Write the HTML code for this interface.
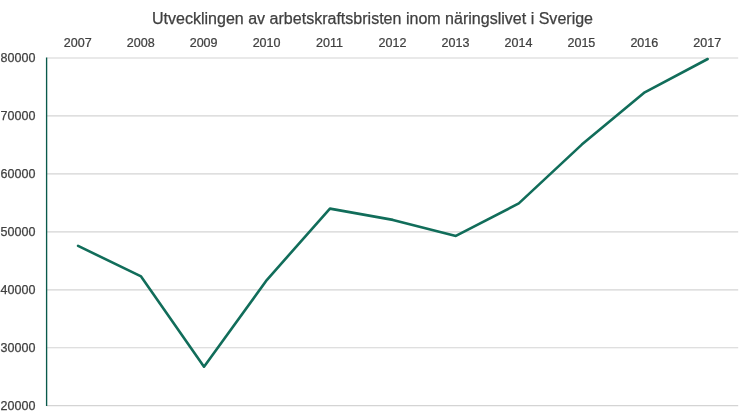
<!DOCTYPE html>
<html><head><meta charset="utf-8"><style>
html,body{margin:0;padding:0;background:#fff;width:746px;height:419px;overflow:hidden}
svg{display:block;filter:blur(0.35px)}
text{font-family:"Liberation Sans",sans-serif;fill:#404040;stroke:#404040;stroke-width:0.25px}
</style></head><body>
<svg width="746" height="419" viewBox="0 0 746 419">
<text x="372.5" y="24.1" font-size="16.05" text-anchor="middle">Utvecklingen av arbetskraftsbristen inom näringslivet i Sverige</text>
<text transform="translate(77.70 46.6) scale(0.965 1)" font-size="13" text-anchor="middle">2007</text>
<text transform="translate(140.66 46.6) scale(0.965 1)" font-size="13" text-anchor="middle">2008</text>
<text transform="translate(203.62 46.6) scale(0.965 1)" font-size="13" text-anchor="middle">2009</text>
<text transform="translate(266.58 46.6) scale(0.965 1)" font-size="13" text-anchor="middle">2010</text>
<text transform="translate(329.54 46.6) scale(0.965 1)" font-size="13" text-anchor="middle">2011</text>
<text transform="translate(392.50 46.6) scale(0.965 1)" font-size="13" text-anchor="middle">2012</text>
<text transform="translate(455.46 46.6) scale(0.965 1)" font-size="13" text-anchor="middle">2013</text>
<text transform="translate(518.42 46.6) scale(0.965 1)" font-size="13" text-anchor="middle">2014</text>
<text transform="translate(581.38 46.6) scale(0.965 1)" font-size="13" text-anchor="middle">2015</text>
<text transform="translate(644.34 46.6) scale(0.965 1)" font-size="13" text-anchor="middle">2016</text>
<text transform="translate(707.30 46.6) scale(0.965 1)" font-size="13" text-anchor="middle">2017</text>
<line x1="46.60" y1="58.00" x2="738.2" y2="58.00" stroke="#d4d4d4" stroke-width="1.2"/>
<text x="0.6" y="62.40" font-size="12.5">80000</text>
<line x1="46.60" y1="115.95" x2="738.2" y2="115.95" stroke="#d4d4d4" stroke-width="1.2"/>
<text x="0.6" y="120.35" font-size="12.5">70000</text>
<line x1="46.60" y1="173.90" x2="738.2" y2="173.90" stroke="#d4d4d4" stroke-width="1.2"/>
<text x="0.6" y="178.30" font-size="12.5">60000</text>
<line x1="46.60" y1="231.85" x2="738.2" y2="231.85" stroke="#d4d4d4" stroke-width="1.2"/>
<text x="0.6" y="236.25" font-size="12.5">50000</text>
<line x1="46.60" y1="289.80" x2="738.2" y2="289.80" stroke="#d4d4d4" stroke-width="1.2"/>
<text x="0.6" y="294.20" font-size="12.5">40000</text>
<line x1="46.60" y1="347.75" x2="738.2" y2="347.75" stroke="#d4d4d4" stroke-width="1.2"/>
<text x="0.6" y="352.15" font-size="12.5">30000</text>
<line x1="46.60" y1="405.70" x2="738.2" y2="405.70" stroke="#d4d4d4" stroke-width="1.2"/>
<text x="0.6" y="410.10" font-size="12.5">20000</text>
<line x1="46.6" y1="57.50" x2="46.6" y2="406.00" stroke="#0a5a4b" stroke-width="1.35"/>
<polyline points="78.10,245.90 141.06,276.40 204.02,366.70 266.98,279.80 329.94,208.60 392.90,219.90 455.86,235.90 518.82,203.40 581.78,144.60 644.74,92.30 707.70,59.00" fill="none" stroke="#116d5a" stroke-width="2.6" stroke-linejoin="round" stroke-linecap="round"/>
</svg></body></html>
